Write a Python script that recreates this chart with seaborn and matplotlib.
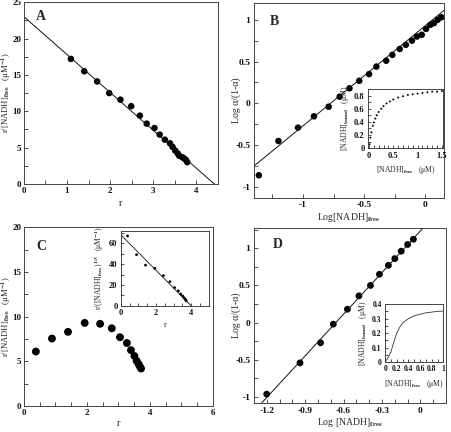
import numpy as np
import pandas as pd
import seaborn as sns
import matplotlib.pyplot as plt
from matplotlib.ticker import MultipleLocator, FuncFormatter

# ================================
# Panel A - Scatchard plot
# ================================
a_r = [1.09, 1.40, 1.70, 1.98, 2.24, 2.49, 2.69, 2.85, 3.03, 3.15, 3.27,
       3.39, 3.45, 3.51, 3.57, 3.60, 3.67, 3.72, 3.76, 3.79]
a_rc = [17.2, 15.5, 14.1, 12.5, 11.6, 10.7, 9.4, 8.3, 7.7, 6.8, 6.1,
        5.6, 5.1, 4.6, 4.2, 3.9, 3.7, 3.5, 3.3, 3.0]
a_fit_r = [0.0, 4.42]
a_fit_rc = [23.0, 0.0]

# ================================
# Panel B - Hill plot + binding curve inset
# ================================
b_logc = [-1.36, -1.20, -1.04, -0.91, -0.79, -0.70, -0.62, -0.54, -0.46, -0.40, -0.32,
          -0.27, -0.21, -0.16, -0.11, -0.07, -0.03, 0.005, 0.04, 0.07, 0.10, 0.13]
b_hill = [-0.86, -0.45, -0.29, -0.155, -0.04, 0.08, 0.18, 0.27, 0.35, 0.44, 0.51,
          0.58, 0.65, 0.70, 0.75, 0.80, 0.82, 0.89, 0.94, 0.96, 1.00, 1.03]
b_fit_logc = [-1.40, 0.15]
b_fit_hill = [-0.75, 1.11]
b_free = [0.01, 0.03, 0.05, 0.08, 0.10, 0.13, 0.16, 0.20, 0.25, 0.30, 0.36, 0.43,
          0.50, 0.60, 0.70, 0.80, 0.90, 1.00, 1.10, 1.20, 1.30, 1.40, 1.50]
b_bound = [0.06, 0.16, 0.24, 0.34, 0.39, 0.45, 0.50, 0.55, 0.60, 0.64, 0.68, 0.71,
           0.74, 0.77, 0.79, 0.81, 0.82, 0.83, 0.84, 0.85, 0.86, 0.86, 0.87]

# ================================
# Panel C - curved Scatchard + linearised inset
# ================================
c_r = [0.38, 0.89, 1.40, 1.93, 2.42, 2.79, 3.05, 3.27, 3.40, 3.51, 3.58, 3.64, 3.68, 3.72]
c_rc = [6.1, 7.55, 8.3, 9.3, 9.2, 8.7, 7.7, 7.05, 6.25, 5.6, 5.05, 4.7, 4.45, 4.2]
c_rc3 = [67.0, 49.0, 39.0, 36.0, 29.0, 23.2, 17.5, 14.3, 11.4, 9.5, 7.9, 6.7, 5.7, 4.8]
c_fit_r = [0.0, 4.0]
c_fit_rc3 = [68.0, 0.0]

# ================================
# Panel D - Hill plot + sigmoid inset
# ================================
d_logc = [-1.20, -0.94, -0.78, -0.68, -0.57, -0.48, -0.39, -0.32, -0.25, -0.20, -0.15, -0.10, -0.055]
d_hill = [-0.96, -0.54, -0.27, -0.02, 0.18, 0.36, 0.50, 0.65, 0.77, 0.86, 0.96, 1.05, 1.12]
d_fit_logc = [-1.24, 0.02]
d_fit_hill = [-1.08, 1.27]
d_free = [0.0, 0.05, 0.10, 0.15, 0.20, 0.25, 0.30, 0.35, 0.40, 0.50, 0.60, 0.70, 0.80, 0.90, 1.00]
d_bound = [0.0, 0.03, 0.07, 0.14, 0.20, 0.24, 0.27, 0.285, 0.30, 0.32, 0.33, 0.34, 0.345, 0.35, 0.352]

# ================================
# Style
# ================================
sns.set_style("ticks")
plt.rcParams['font.family'] = ['Liberation Serif', 'DejaVu Serif']
plt.rcParams['font.weight'] = 'bold'
plt.rcParams['mathtext.fontset'] = 'stix'
plt.rcParams['mathtext.default'] = 'bf'
plt.rcParams['axes.unicode_minus'] = False

fmt = FuncFormatter(lambda v, p: '%g' % round(v, 3))
INK = '#111111'


def style(ax, xmaj, xmin, ymaj, ymin, fs=6.8, tl=3, pad=2.5):
    ax.xaxis.set_major_locator(MultipleLocator(xmaj))
    ax.xaxis.set_minor_locator(MultipleLocator(xmin))
    ax.yaxis.set_major_locator(MultipleLocator(ymaj))
    ax.yaxis.set_minor_locator(MultipleLocator(ymin))
    ax.xaxis.set_major_formatter(fmt)
    ax.yaxis.set_major_formatter(fmt)
    ax.tick_params(which='both', direction='in', top=False, right=False,
                   labelsize=fs, width=0.6, length=tl, pad=pad, colors='#333333',
                   labelcolor=INK)
    for lbl in ax.get_xticklabels() + ax.get_yticklabels():
        lbl.set_fontweight('bold')
    for s in ax.spines.values():
        s.set_linewidth(0.7)
        s.set_color('#444444')
        s.set_visible(True)


fig = plt.figure(figsize=(4.51, 4.32), dpi=100)

axA = fig.add_axes([0.053, 0.574, 0.430, 0.421])
axB = fig.add_axes([0.563, 0.542, 0.421, 0.451])
axBi = fig.add_axes([0.816, 0.657, 0.166, 0.137])
axC = fig.add_axes([0.053, 0.060, 0.419, 0.414])
axCi = fig.add_axes([0.268, 0.292, 0.195, 0.174])
axD = fig.add_axes([0.563, 0.067, 0.426, 0.405])
axDi = fig.add_axes([0.854, 0.162, 0.129, 0.134])

# --- A
sns.lineplot(x=a_fit_r, y=a_fit_rc, ax=axA, color=INK, lw=0.7)
sns.scatterplot(x=a_r, y=a_rc, ax=axA, color='black', s=22, edgecolor='none')
axA.set_xlim(0, 4.5)
axA.set_ylim(0, 25)
style(axA, 1, 0.5, 5, 2.5, fs=6.5, pad=2)
axA.set_xlabel('r', fontsize=7.5)
axA.set_ylabel('r/[NADH]$_{free}$   (μM$^{-1}$)', fontsize=6.2)
axA.xaxis.set_label_coords(0.5, -0.085)
axA.yaxis.set_label_coords(-0.058, 0.5)
axA.text(0.06, 0.9, 'A', transform=axA.transAxes, fontsize=10, fontweight='bold')

# --- B
sns.lineplot(x=b_fit_logc, y=b_fit_hill, ax=axB, color=INK, lw=0.7)
sns.scatterplot(x=b_logc, y=b_hill, ax=axB, color='black', s=22, edgecolor='none')
axB.set_xlim(-1.4, 0.15)
axB.set_ylim(-1.13, 1.2)
style(axB, 0.5, 0.25, 0.5, 0.25)
axB.set_xlabel('Log[NADH]$_{free}$', fontsize=7)
axB.set_ylabel('Log α/(1-α)', fontsize=7)
axB.xaxis.set_label_coords(0.5, -0.07)
axB.yaxis.set_label_coords(-0.07, 0.5)
axB.text(0.085, 0.885, 'B', transform=axB.transAxes, fontsize=10, fontweight='bold')

sns.scatterplot(x=b_free, y=b_bound, ax=axBi, color='black', s=2, edgecolor='none')
axBi.set_xlim(-0.02, 1.52)
axBi.set_ylim(0, 0.9)
style(axBi, 0.5, 0.1, 0.2, 0.1, fs=6, tl=2)
axBi.set_xlabel('[NADH]$_{free}$   (μM)', fontsize=5.5, labelpad=3)
axBi.set_ylabel('[NADH]$_{bound}$   (μM)', fontsize=5.5, labelpad=2)

# --- C
sns.scatterplot(x=c_r, y=c_rc, ax=axC, color='black', s=32, edgecolor='none')
axC.set_xlim(0, 6)
axC.set_ylim(0, 20)
style(axC, 2, 0.5, 5, 2.5, fs=6.5, pad=2)
axC.set_xlabel('r', fontsize=7.5)
axC.set_ylabel('r/[NADH]$_{free}$   (μM$^{-1}$)', fontsize=6.2)
axC.xaxis.set_label_coords(0.5, -0.075)
axC.yaxis.set_label_coords(-0.06, 0.5)
axC.text(0.065, 0.87, 'C', transform=axC.transAxes, fontsize=10, fontweight='bold')

sns.lineplot(x=c_fit_r, y=c_fit_rc3, ax=axCi, color=INK, lw=0.6)
sns.scatterplot(x=c_r, y=c_rc3, ax=axCi, color='black', s=4, edgecolor='none')
axCi.set_xlim(0, 5)
axCi.set_ylim(0, 72)
style(axCi, 2, 0.5, 20, 10, fs=6, tl=2)
axCi.set_xlabel('r', fontsize=6, labelpad=3)
axCi.set_ylabel('r/([NADH]$_{free}$)$^{1/3}$   (μM$^{-1}$)', fontsize=5.5, labelpad=2)

# --- D
sns.lineplot(x=d_fit_logc, y=d_fit_hill, ax=axD, color=INK, lw=0.7)
sns.scatterplot(x=d_logc, y=d_hill, ax=axD, color='black', s=24, edgecolor='none')
axD.set_xlim(-1.3, 0.2)
axD.set_ylim(-1.08, 1.27)
style(axD, 0.3, 0.1, 0.5, 0.25)
axD.set_xlabel('Log [NADH]$_{free}$', fontsize=7)
axD.set_ylabel('Log α/(1-α)', fontsize=7)
axD.xaxis.set_label_coords(0.5, -0.075)
axD.yaxis.set_label_coords(-0.065, 0.5)
axD.text(0.1, 0.885, 'D', transform=axD.transAxes, fontsize=10, fontweight='bold')

sns.lineplot(x=d_free, y=d_bound, ax=axDi, color='#333333', lw=0.6)
axDi.set_xlim(0, 1.0)
axDi.set_ylim(0, 0.4)
style(axDi, 0.2, 0.1, 0.1, 0.05, fs=5.5, tl=2)
axDi.set_xlabel('[NADH]$_{free}$   (μM)', fontsize=5.5, labelpad=3)
axDi.set_ylabel('[NADH]$_{bound}$   (μM)', fontsize=5.5, labelpad=2)

fig.savefig('out.png', dpi=100)
